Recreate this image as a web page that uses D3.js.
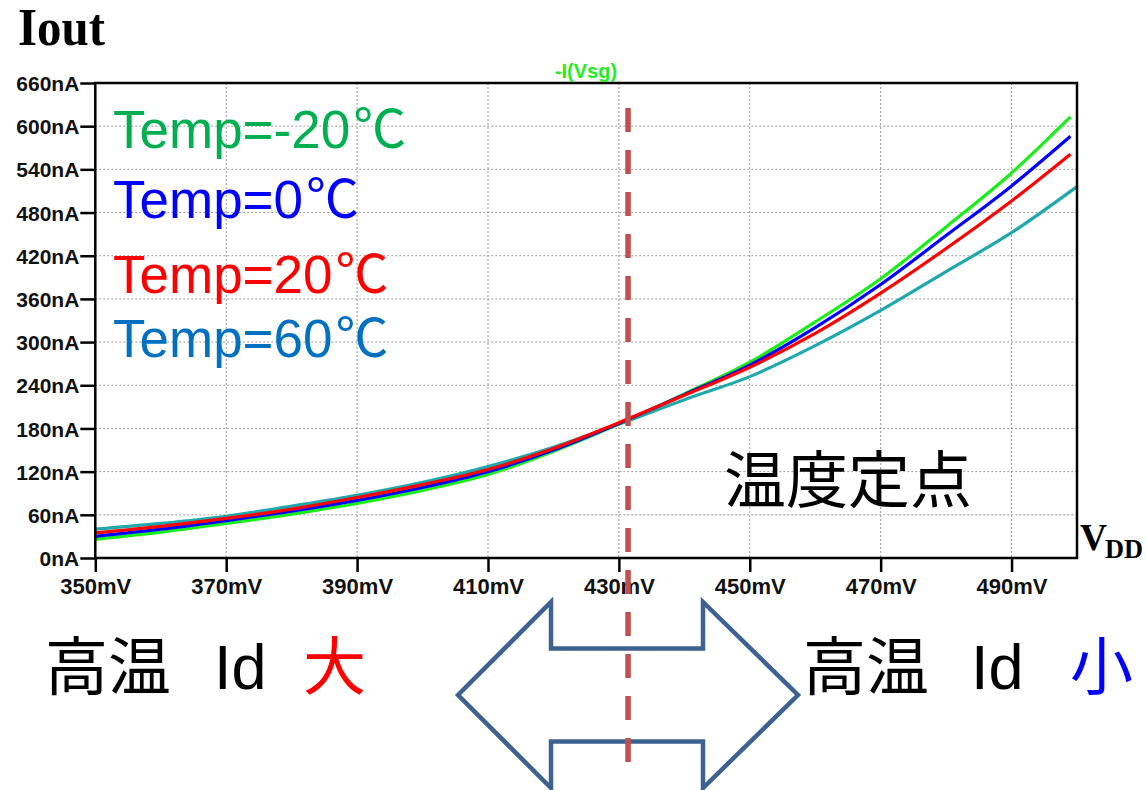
<!DOCTYPE html>
<html>
<head>
<meta charset="utf-8">
<script src="https://cdn.jsdelivr.net/npm/d3@7"></script>
<style>
  body { margin: 0; background: #fff; }
  svg { display: block; }
</style>
</head>
<body>
<svg id="chart" width="1146" height="790"></svg>
<script>
// Supply sweep (mV) and output current (nA) at four temperatures
const vdd = [350, 360, 370, 380, 390, 400, 410, 420, 430, 440, 450, 460, 470, 480, 490];
const vddLast = [499, 499, 499, 500];            // final sweep point of each trace
const iTempM20 = [26, 36, 48, 61, 76, 94, 116, 148, 186, 228, 272, 328, 388, 460, 535, 613];
const iTemp0   = [30, 40, 52, 65, 80, 98, 120, 150, 187, 227, 268, 320, 380, 448, 517, 586];
const iTemp20  = [35, 44, 55, 68, 84, 102, 123, 152, 188, 226, 265, 312, 368, 430, 496, 561];
const iTemp60  = [40, 48, 58, 72, 87, 105, 127, 154, 186, 220, 252, 295, 344, 398, 452, 516];
const tempNames = ["Temp=-20", "Temp=0", "Temp=20", "Temp=60"];
const xTicks = [350, 370, 390, 410, 430, 450, 470, 490];
const yTicks = [0, 60, 120, 180, 240, 300, 360, 420, 480, 540, 600, 660];
const fixedPointVdd = 431.4;   // temperature-independent crossing

const svg = d3.select("#chart");
const plot = { left: 95.3, right: 1077, top: 83, bottom: 558 };

const x = d3.scaleLinear().domain([350, 500]).range([plot.left, plot.right]);
const y = d3.scaleLinear().domain([0, 660]).range([plot.bottom, plot.top]);

const sans = "'Liberation Sans', Arial, sans-serif";
const serif = "'Liberation Serif', 'Times New Roman', serif";
const cjk = "'Noto Sans CJK JP', 'Noto Sans CJK SC', sans-serif";

// Grid (dotted)
const grid = svg.append("g").attr("stroke", "#9a9a9a").attr("stroke-width", 1).attr("stroke-dasharray", "2,2");
grid.selectAll("line.gx").data(xTicks.slice(1)).join("line")
  .attr("x1", d => x(d)).attr("x2", d => x(d)).attr("y1", plot.top).attr("y2", plot.bottom);
grid.selectAll("line.gy").data(yTicks.slice(1, -1)).join("line")
  .attr("x1", plot.left).attr("x2", plot.right).attr("y1", d => y(d)).attr("y2", d => y(d));

// Axes
const xAxis = d3.axisBottom(x).tickValues(xTicks).tickSize(14).tickPadding(6)
  .tickFormat(d => d + "mV");
const yAxis = d3.axisLeft(y).tickValues(yTicks).tickSize(15).tickPadding(1)
  .tickFormat(d => d + "nA");

const gx = svg.append("g").attr("transform", `translate(0,${plot.bottom})`).call(xAxis);
const gy = svg.append("g").attr("transform", `translate(${plot.left},0)`).call(yAxis);
[gx, gy].forEach(g => {
  g.select(".domain").remove();
  g.selectAll(".tick line").attr("stroke", "#000").attr("stroke-width", 2.5);
  g.selectAll(".tick text").attr("fill", "#111").attr("font-family", sans).attr("font-weight", "bold");
});
gx.selectAll(".tick text").attr("font-size", 22);
gy.selectAll(".tick text").attr("font-size", 21).attr("dy", "0.36em");

// Traces
const series = [
  { values: iTempM20, color: "#19ee19" },
  { values: iTemp0,   color: "#0000ff" },
  { values: iTemp20,  color: "#ff0000" },
  { values: iTemp60,  color: "#1fa9ad" }
];
series.forEach((s, i) => {
  s.points = s.values.map((v, j) => [j < vdd.length ? vdd[j] : vddLast[i], v]);
});
const line = d3.line().x(d => x(d[0])).y(d => y(d[1])).curve(d3.curveMonotoneX);
const drawOrder = [3, 0, 1, 2];
svg.append("g").selectAll("path").data(drawOrder.map(i => series[i])).join("path")
  .attr("d", d => line(d.points))
  .attr("fill", "none")
  .attr("stroke", d => d.color)
  .attr("stroke-width", 3.2)
  .attr("stroke-linejoin", "round");

// Plot frame
svg.append("rect")
  .attr("x", plot.left).attr("y", plot.top)
  .attr("width", plot.right - plot.left).attr("height", plot.bottom - plot.top)
  .attr("fill", "none").attr("stroke", "#000").attr("stroke-width", 2.5);

// Trace name above the frame
svg.append("text").attr("x", 586).attr("y", 78).attr("text-anchor", "middle")
  .attr("font-family", sans).attr("font-weight", "bold").attr("font-size", 20)
  .attr("fill", "#22ee22").text("-I(Vsg)");

// Title and axis name
svg.append("text").attr("x", 18).attr("y", 45)
  .attr("font-family", serif).attr("font-weight", "bold")
  .attr("font-size", 52).attr("textLength", 87).attr("lengthAdjust", "spacingAndGlyphs")
  .attr("fill", "#000").text("Iout");
svg.append("text").attr("x", 1080).attr("y", 550)
  .attr("font-family", serif).attr("font-weight", "bold").attr("font-size", 38)
  .attr("textLength", 27).attr("lengthAdjust", "spacingAndGlyphs")
  .attr("fill", "#000").text("V");
svg.append("text").attr("x", 1105).attr("y", 558)
  .attr("font-family", serif).attr("font-weight", "bold").attr("font-size", 28)
  .attr("textLength", 38).attr("lengthAdjust", "spacingAndGlyphs")
  .attr("fill", "#000").text("DD");

// Legend
const legendColors = ["#00b050", "#0000ff", "#ff0000", "#0070c0"];
const legendBase = [148, 218, 293, 357];
const legend = svg.append("g").selectAll("text").data(tempNames).join("text")
  .attr("x", 113).attr("y", (d, i) => legendBase[i])
  .attr("font-family", sans)
  .attr("font-size", 53)
  .attr("fill", (d, i) => legendColors[i]);
legend.append("tspan").text(d => d);
legend.append("tspan").attr("font-family", cjk).attr("dx", 3).text("\u2103");

// Fixed-point annotation
svg.append("text").attr("x", 724).attr("y", 503)
  .attr("font-family", cjk).attr("font-size", 62).attr("fill", "#000").text("温度定点");

// Double-headed hollow arrow below the axis
const arrow = { cy: 695, tipL: 458, tipR: 798, neckL: 551, neckR: 703, head: 93, shaft: 46.5 };
const arrowPts = [
  [arrow.tipL, arrow.cy], [arrow.neckL, arrow.cy - arrow.head], [arrow.neckL, arrow.cy - arrow.shaft],
  [arrow.neckR, arrow.cy - arrow.shaft], [arrow.neckR, arrow.cy - arrow.head], [arrow.tipR, arrow.cy],
  [arrow.neckR, arrow.cy + arrow.head], [arrow.neckR, arrow.cy + arrow.shaft], [arrow.neckL, arrow.cy + arrow.shaft],
  [arrow.neckL, arrow.cy + arrow.head]
];
svg.append("path").attr("d", d3.line()(arrowPts) + "Z")
  .attr("fill", "none").attr("stroke", "#3d6291").attr("stroke-width", 4.5).attr("stroke-linejoin", "miter");

// Dashed marker at the fixed point
svg.append("line")
  .attr("x1", x(fixedPointVdd)).attr("x2", x(fixedPointVdd))
  .attr("y1", 108).attr("y2", 762)
  .attr("stroke", "#c0504d").attr("stroke-width", 5.5).attr("stroke-dasharray", "24,18");

// Bottom captions
function caption(xs, mark, markColor) {
  const base = 689;
  svg.append("text").attr("x", xs[0]).attr("y", base)
    .attr("font-family", cjk).attr("font-size", 63).attr("fill", "#000").text("高温");
  svg.append("text").attr("x", xs[1]).attr("y", base)
    .attr("font-family", sans).attr("font-size", 63).attr("fill", "#000").text("Id");
  svg.append("text").attr("x", xs[2]).attr("y", base)
    .attr("font-family", cjk).attr("font-size", 63).attr("fill", markColor).text(mark);
}
caption([45, 214, 303], "大", "#ff0000");
caption([803, 971, 1070], "小", "#0000ff");
</script>
</body>
</html>
